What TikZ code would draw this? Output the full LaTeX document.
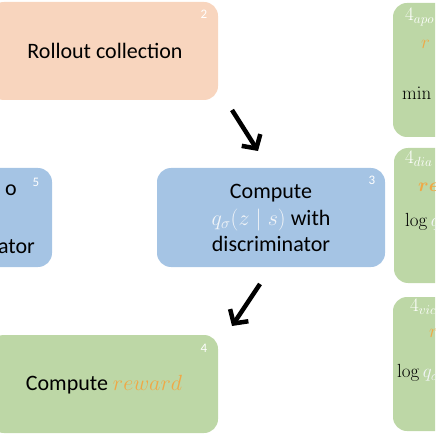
\RequirePackage{fix-cm}
\documentclass[tikz,border=0pt]{standalone}
\usepackage{amsmath}
\usepackage[no-math]{fontspec}
\setmainfont{Carlito}
\usetikzlibrary{arrows.meta}
\definecolor{peach}{HTML}{F8D5BE}
\definecolor{bluebox}{HTML}{A5C4E4}
\definecolor{greenbox}{HTML}{BDD7A6}
\definecolor{orangetxt}{HTML}{F0A845}
\definecolor{lighttxt}{HTML}{F2F5F8}
\begin{document}
\begin{tikzpicture}[x=1pt,y=-1pt,
  box/.style={rounded corners=14pt, inner sep=0pt},
  numlbl/.style={text=white, font=\fontsize{13}{15}\selectfont, inner sep=0pt},
  maintxt/.style={font=\fontsize{22}{26.5}\selectfont, align=center, inner sep=0pt},
  sidetxt/.style={font=\fontsize{19}{22}\selectfont, inner sep=0pt, anchor=west},
  bigarrow/.style={line width=4.5pt, -{Straight Barb[length=10pt,width=22pt,line width=4.5pt]}}]
\useasboundingbox (0,0) rectangle (435,435);
\clip (0,0) rectangle (435,435);
% main boxes
\node[box, fill=peach, minimum width=228pt, minimum height=98pt] (b2) at (104,51) {};
\node[box, fill=bluebox, minimum width=228pt, minimum height=99pt] (b3) at (271,217.5) {};
\node[box, fill=bluebox, minimum width=228pt, minimum height=99pt] (b5) at (-62,217.5) {};
\node[box, fill=greenbox, minimum width=228pt, minimum height=98pt] (b4) at (104,384) {};
\node[box, fill=greenbox, minimum width=228pt, minimum height=134pt] (ra) at (507,70) {};
\node[box, fill=greenbox, minimum width=228pt, minimum height=135pt] (rb) at (508,215.5) {};
\node[box, fill=greenbox, minimum width=228pt, minimum height=134pt] (rc) at (507,364) {};
% numbers
\node[numlbl] (n2) at (204,14) {2};
\node[numlbl] (n3) at (372,180) {3};
\node[numlbl] (n5) at (36,182) {5};
\node[numlbl] (n4) at (204,348) {4};
% texts
\node[maintxt] (t2) at (105,51) {Rollout collection};
\node[maintxt] (t3) at (271,218) {Compute\\\textcolor{lighttxt}{$q_\sigma(z\mid s)$} with\\discriminator};
\node[maintxt, anchor=east] (t5a) at (17,190) {o};
\node[maintxt, anchor=east] (t5b) at (35,247) {ator};
\node[maintxt] (t4) at (104,385) {Compute \textcolor{orangetxt}{$reward$}};
% right column texts
\node[sidetxt, text=white] (ra1) at (405,17) {$4_{apo}$};
\node[sidetxt, text=orangetxt] (ra2) at (421,44) {$r$};
\node[sidetxt] (ra3) at (402,93) {$\min$};
\node[sidetxt, text=white] (rb1) at (405,159) {$4_{dia}$};
\node[sidetxt, text=orangetxt] (rb2) at (418,187) {$\boldsymbol{re}$};
\node[sidetxt] (rb3) at (405,222) {$\log \textcolor{lighttxt}{q}$};
\node[sidetxt, text=white] (rc1) at (410,307) {$4_{vic}$};
\node[sidetxt, text=orangetxt] (rc2) at (429,333) {$r$};
\node[sidetxt] (rc3) at (397,373) {$\log \textcolor{lighttxt}{q_\sigma}$};
% arrows
\coordinate (a1s) at (232,110);
\coordinate (a1e) at (258,151);
\coordinate (a2s) at (260,284);
\coordinate (a2e) at (232,326);
\draw[bigarrow] (a1s) -- (a1e);
\draw[bigarrow] (a2s) -- (a2e);
\end{tikzpicture}
\end{document}
